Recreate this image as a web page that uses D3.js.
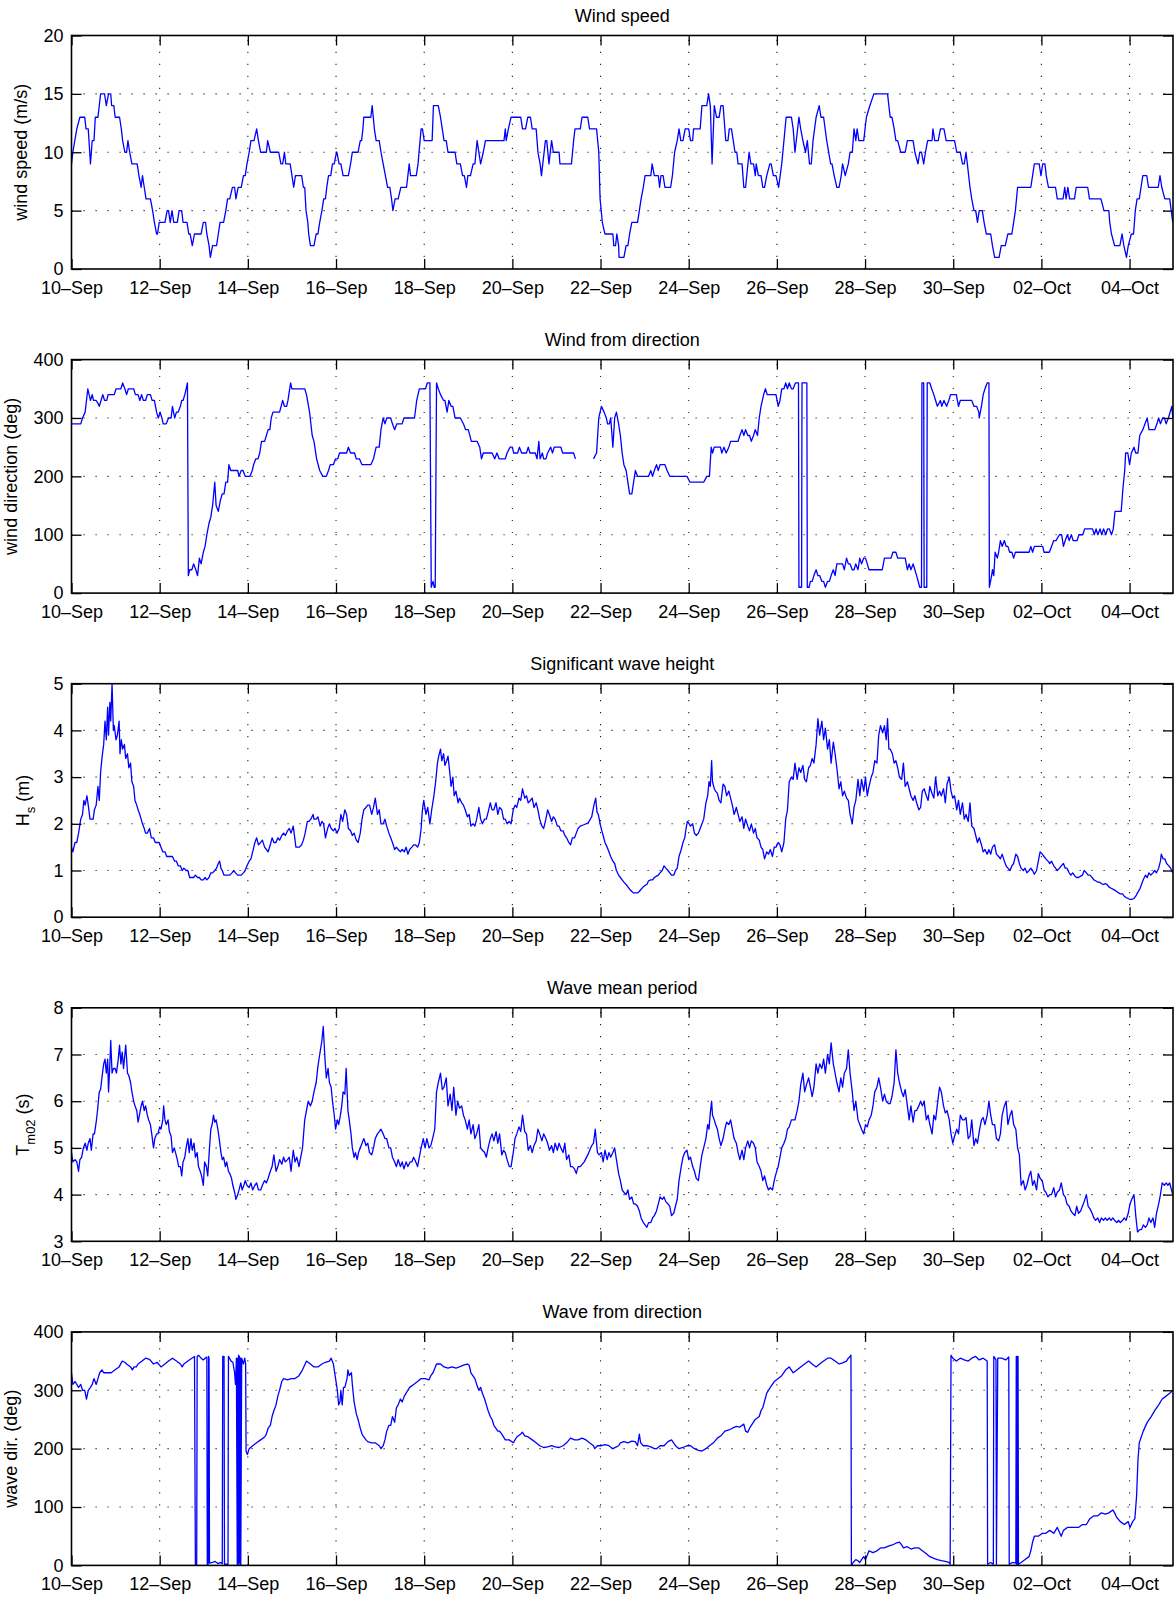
<!DOCTYPE html>
<html>
<head>
<meta charset="utf-8">
<script src="https://cdn.jsdelivr.net/npm/d3@7"></script>
<style>
  body { margin: 0; background: #fff; }
  svg { display: block; }
  text { font-family: "Liberation Sans", Arial, Helvetica, sans-serif; font-size: 18px; fill: #000; }
</style>
</head>
<body>
<svg id="chart" width="1176" height="1597"></svg>
<script>
// Buoy record, 10 Sep - 4 Oct. Times are in days since 10 Sep 00:00 UTC.
const tickDates = ["2013-09-10","2013-09-12","2013-09-14","2013-09-16","2013-09-18","2013-09-20",
  "2013-09-22","2013-09-24","2013-09-26","2013-09-28","2013-09-30","2013-10-02","2013-10-04"];

const speedTicks = [0, 5, 10, 15, 20];
const dirTicks = [0, 100, 200, 300, 400];
const hsTicks = [0, 1, 2, 3, 4, 5];
const tmTicks = [3, 4, 5, 6, 7, 8];

// wind speed (m/s)
const windSpeed = [[0,9],[0.03,10],[0.12,12],[0.19,13],[0.30,13],[0.33,12],[0.38,12],[0.43,9],[0.47,11],[0.51,11],[0.54,13],[0.60,13],[0.63,14],[0.66,15],[0.75,15],[0.79,14],[0.84,15],[0.89,15],[0.91,14],[0.96,14],[0.99,13],[1.09,13],[1.13,12],[1.16,11],[1.21,10],[1.25,10],[1.28,11],[1.32,10],[1.37,9],[1.49,9],[1.53,8],[1.58,7],[1.61,8],[1.65,7],[1.69,6],[1.79,6],[1.84,5],[1.88,4],[1.93,3],[1.95,3],[1.99,4],[2.12,4],[2.17,5],[2.20,5],[2.24,4],[2.28,5],[2.32,4],[2.40,4],[2.44,5],[2.50,5],[2.53,4],[2.62,4],[2.66,3],[2.69,3],[2.74,2],[2.79,3],[2.94,3],[2.99,4],[3.04,4],[3.07,3],[3.12,2],[3.15,1],[3.20,2],[3.29,2],[3.33,3],[3.37,4],[3.45,4],[3.50,5],[3.54,6],[3.59,6],[3.65,7],[3.70,7],[3.73,6],[3.78,7],[3.85,7],[3.90,8],[3.94,8],[3.98,9],[4.03,10],[4.07,11],[4.14,11],[4.20,12],[4.24,11],[4.29,10],[4.42,10],[4.45,11],[4.51,10],[4.70,10],[4.75,9],[4.79,9],[4.83,10],[4.86,9],[4.96,9],[5.00,8],[5.04,7],[5.08,8],[5.22,8],[5.26,7],[5.29,7],[5.32,5],[5.36,4],[5.38,3],[5.42,2],[5.50,2],[5.55,3],[5.59,3],[5.63,4],[5.68,5],[5.72,6],[5.76,6],[5.79,7],[5.83,8],[5.88,8],[5.92,9],[5.96,9],[6.01,10],[6.02,10],[6.07,9],[6.11,9],[6.16,8],[6.28,8],[6.33,9],[6.37,10],[6.50,10],[6.55,11],[6.58,11],[6.61,12],[6.63,13],[6.79,13],[6.82,14],[6.87,12],[6.91,11],[6.98,11],[7.02,10],[7.07,9],[7.12,8],[7.17,7],[7.22,7],[7.26,6],[7.29,5],[7.34,6],[7.41,6],[7.47,7],[7.60,7],[7.66,9],[7.69,8],[7.82,8],[7.86,9],[7.93,12],[7.96,12],[8.00,11],[8.18,11],[8.21,14],[8.32,14],[8.37,13],[8.41,12],[8.45,11],[8.50,11],[8.54,10],[8.70,10],[8.74,9],[8.82,9],[8.87,8],[8.91,8],[8.96,7],[8.99,8],[9.05,8],[9.11,9],[9.15,9],[9.20,11],[9.24,10],[9.28,9],[9.34,10],[9.39,11],[9.81,11],[9.84,12],[9.86,11],[9.91,12],[9.97,13],[10.19,13],[10.23,12],[10.30,12],[10.35,13],[10.41,13],[10.45,12],[10.54,12],[10.58,10],[10.63,9],[10.66,8],[10.69,9],[10.75,11],[10.78,11],[10.83,9],[10.89,11],[10.93,10],[11.06,10],[11.08,9],[11.34,9],[11.39,11],[11.42,12],[11.54,12],[11.58,13],[11.71,13],[11.75,12],[11.91,12],[11.96,10],[11.99,6],[12.04,4],[12.10,3],[12.28,3],[12.30,2],[12.34,2],[12.37,3],[12.41,2],[12.42,1],[12.53,1],[12.58,2],[12.62,2],[12.66,3],[12.71,4],[12.84,4],[12.88,5],[12.92,6],[12.97,7],[13.01,8],[13.14,8],[13.17,9],[13.22,8],[13.31,8],[13.34,7],[13.37,8],[13.42,8],[13.46,7],[13.59,7],[13.63,8],[13.68,10],[13.74,11],[13.78,12],[13.82,11],[13.87,11],[13.92,12],[14.00,12],[14.04,11],[14.09,11],[14.11,12],[14.26,12],[14.30,14],[14.41,14],[14.45,15],[14.49,14],[14.53,9],[14.58,14],[14.63,13],[14.69,13],[14.73,14],[14.78,14],[14.80,13],[14.84,11],[14.89,11],[14.92,12],[14.97,12],[15.01,11],[15.05,10],[15.09,10],[15.12,9],[15.21,9],[15.25,7],[15.29,7],[15.37,10],[15.41,9],[15.47,9],[15.51,8],[15.53,9],[15.58,8],[15.64,8],[15.68,7],[15.72,7],[15.77,8],[15.84,9],[15.87,9],[15.92,8],[15.98,8],[16.04,7],[16.11,9],[16.16,11],[16.21,13],[16.33,13],[16.37,12],[16.41,10],[16.50,13],[16.54,12],[16.59,11],[16.65,10],[16.69,11],[16.74,9],[16.78,9],[16.82,11],[16.89,13],[16.96,14],[17.00,13],[17.06,13],[17.13,11],[17.22,9],[17.25,9],[17.30,8],[17.36,7],[17.41,7],[17.46,8],[17.49,9],[17.55,8],[17.62,9],[17.66,10],[17.71,10],[17.75,12],[17.79,11],[17.82,12],[17.86,11],[17.97,11],[18.03,13],[18.11,14],[18.20,15],[18.51,15],[18.57,13],[18.61,13],[18.66,12],[18.70,11],[18.74,11],[18.81,10],[18.91,10],[18.96,11],[19.09,11],[19.13,10],[19.20,9],[19.24,10],[19.28,10],[19.33,9],[19.37,10],[19.42,11],[19.52,11],[19.54,12],[19.58,11],[19.66,11],[19.71,12],[19.79,12],[19.84,11],[20.03,11],[20.08,10],[20.16,10],[20.21,9],[20.25,9],[20.29,10],[20.32,9],[20.38,7],[20.42,6],[20.47,5],[20.51,5],[20.55,4],[20.59,5],[20.66,5],[20.70,4],[20.75,3],[20.85,3],[20.89,2],[20.94,1],[21.04,1],[21.09,2],[21.18,2],[21.24,3],[21.33,3],[21.37,4],[21.41,5],[21.46,7],[21.76,7],[21.80,8],[21.84,9],[21.95,9],[21.99,8],[22.03,9],[22.08,9],[22.11,8],[22.16,7],[22.32,7],[22.36,6],[22.49,6],[22.53,7],[22.56,6],[22.60,7],[22.64,6],[22.75,6],[22.79,7],[23.05,7],[23.09,6],[23.35,6],[23.42,5],[23.53,5],[23.55,4],[23.59,3],[23.66,2],[23.78,2],[23.83,3],[23.87,2],[23.93,1],[23.97,2],[24.04,3],[24.09,3],[24.13,5],[24.17,6],[24.22,6],[24.26,7],[24.30,8],[24.39,8],[24.43,7],[24.65,7],[24.69,8],[24.73,7],[24.80,6],[24.91,6],[24.98,4]];

// wind from direction (deg); null marks missing records
const windDir = [[0,290],[0.21,290],[0.25,300],[0.31,310],[0.37,350],[0.40,340],[0.43,330],[0.47,340],[0.50,330],[0.56,330],[0.60,325],[0.63,320],[0.67,330],[0.71,340],[0.75,330],[0.80,330],[0.83,340],[0.97,340],[1.01,350],[1.12,350],[1.16,360],[1.21,350],[1.25,340],[1.29,350],[1.41,350],[1.45,340],[1.51,340],[1.55,330],[1.59,340],[1.63,330],[1.68,330],[1.72,340],[1.79,340],[1.83,330],[1.88,330],[1.93,310],[1.97,300],[2.01,310],[2.05,300],[2.08,290],[2.15,290],[2.20,300],[2.26,300],[2.29,320],[2.34,300],[2.38,310],[2.42,310],[2.47,320],[2.50,330],[2.53,330],[2.57,340],[2.60,350],[2.63,360],[2.65,30],[2.68,40],[2.73,40],[2.77,50],[2.82,40],[2.86,30],[2.90,60],[2.94,50],[2.99,70],[3.03,80],[3.07,100],[3.12,120],[3.16,130],[3.20,150],[3.25,190],[3.28,150],[3.33,140],[3.38,160],[3.42,170],[3.46,170],[3.50,190],[3.54,190],[3.57,220],[3.61,210],[3.77,210],[3.80,200],[3.85,210],[3.89,210],[3.94,200],[4.05,200],[4.10,210],[4.13,220],[4.18,230],[4.23,230],[4.27,240],[4.31,260],[4.38,260],[4.42,270],[4.46,280],[4.50,280],[4.53,300],[4.57,310],[4.72,310],[4.79,330],[4.83,320],[4.88,320],[4.91,330],[4.97,360],[5.00,350],[5.29,350],[5.33,340],[5.40,310],[5.46,270],[5.50,260],[5.56,230],[5.63,210],[5.70,200],[5.78,200],[5.83,210],[5.87,220],[5.94,220],[5.99,230],[6.04,230],[6.08,240],[6.24,240],[6.28,250],[6.33,240],[6.42,240],[6.46,230],[6.53,230],[6.59,220],[6.79,220],[6.85,230],[6.91,250],[6.98,250],[7.02,280],[7.07,300],[7.11,290],[7.15,300],[7.24,300],[7.28,290],[7.33,280],[7.38,290],[7.50,290],[7.54,300],[7.78,300],[7.83,330],[7.89,350],[8.03,350],[8.07,360],[8.13,360],[8.16,10],[8.20,20],[8.23,10],[8.25,10],[8.28,360],[8.32,350],[8.37,340],[8.44,330],[8.47,330],[8.52,310],[8.56,330],[8.61,320],[8.65,320],[8.70,300],[8.82,300],[8.89,290],[8.94,280],[9.00,280],[9.07,260],[9.20,260],[9.26,250],[9.30,230],[9.34,240],[9.54,240],[9.60,230],[9.65,240],[9.70,230],[9.84,230],[9.88,240],[9.95,250],[10.00,250],[10.03,240],[10.12,240],[10.16,250],[10.21,240],[10.32,240],[10.36,250],[10.40,240],[10.52,240],[10.56,230],[10.60,260],[10.63,230],[10.68,240],[10.71,230],[10.76,230],[10.80,240],[10.87,250],[10.91,240],[10.95,250],[11.10,250],[11.14,240],[11.39,240],[11.43,230],[11.60,null],[11.84,230],[11.91,240],[11.96,300],[12.02,320],[12.08,310],[12.13,300],[12.16,290],[12.20,290],[12.23,300],[12.28,250],[12.32,300],[12.36,310],[12.41,290],[12.45,270],[12.49,240],[12.53,220],[12.58,210],[12.62,190],[12.66,170],[12.71,170],[12.75,190],[12.79,210],[12.84,200],[13.09,200],[13.14,210],[13.18,200],[13.22,210],[13.27,220],[13.31,210],[13.35,220],[13.46,220],[13.51,210],[13.57,200],[13.96,200],[14.03,190],[14.34,190],[14.41,200],[14.47,200],[14.51,250],[14.54,240],[14.58,250],[14.72,250],[14.75,240],[14.80,250],[14.85,240],[14.91,250],[14.95,260],[15.12,260],[15.16,270],[15.21,280],[15.25,270],[15.29,280],[15.34,270],[15.38,270],[15.42,260],[15.47,270],[15.51,280],[15.56,270],[15.60,300],[15.64,320],[15.70,340],[15.74,350],[15.78,340],[15.98,340],[16.03,320],[16.07,330],[16.11,350],[16.16,350],[16.20,360],[16.24,350],[16.28,360],[16.33,350],[16.37,350],[16.42,360],[16.49,360],[16.50,10],[16.56,10],[16.57,360],[16.68,360],[16.69,10],[16.73,10],[16.76,20],[16.80,20],[16.84,30],[16.89,40],[16.93,30],[16.97,30],[17.02,20],[17.06,20],[17.10,10],[17.15,20],[17.19,20],[17.23,30],[17.28,40],[17.32,30],[17.36,50],[17.49,50],[17.53,40],[17.58,60],[17.62,50],[17.66,50],[17.71,40],[17.75,40],[17.79,50],[17.84,40],[17.88,60],[17.92,50],[17.97,60],[18.01,60],[18.05,50],[18.09,40],[18.39,40],[18.44,60],[18.59,60],[18.63,70],[18.70,70],[18.74,60],[18.91,60],[18.96,40],[19.00,50],[19.04,40],[19.09,50],[19.13,40],[19.17,30],[19.24,10],[19.28,10],[19.29,360],[19.33,360],[19.34,10],[19.40,10],[19.41,360],[19.47,360],[19.51,350],[19.56,340],[19.60,330],[19.64,320],[19.71,330],[19.74,320],[19.79,330],[19.85,320],[19.90,330],[19.94,340],[20.07,340],[20.12,320],[20.16,330],[20.42,330],[20.47,320],[20.53,320],[20.58,310],[20.59,300],[20.64,320],[20.68,340],[20.72,350],[20.77,360],[20.81,360],[20.82,10],[20.87,30],[20.89,40],[20.92,30],[20.95,70],[21.00,60],[21.03,70],[21.07,90],[21.11,80],[21.16,90],[21.20,80],[21.24,80],[21.28,70],[21.33,70],[21.37,60],[21.41,70],[21.72,70],[21.76,80],[21.80,70],[21.84,80],[22.03,80],[22.06,70],[22.18,70],[22.23,80],[22.28,90],[22.33,90],[22.41,100],[22.46,100],[22.50,80],[22.54,90],[22.59,100],[22.63,90],[22.68,100],[22.72,90],[22.81,90],[22.85,100],[22.94,100],[22.98,110],[23.16,110],[23.20,100],[23.24,110],[23.28,100],[23.33,110],[23.37,100],[23.41,110],[23.46,100],[23.50,110],[23.54,110],[23.59,100],[23.63,110],[23.67,140],[23.81,140],[23.85,180],[23.89,210],[23.91,240],[23.96,240],[24.00,220],[24.04,240],[24.10,250],[24.14,240],[24.19,240],[24.23,270],[24.30,280],[24.35,290],[24.40,300],[24.44,280],[24.57,280],[24.62,290],[24.66,300],[24.70,290],[24.75,300],[24.79,300],[24.83,290],[24.88,300],[24.92,310],[24.96,320],[24.98,300]];

// significant wave height Hs (m)
const waveHeight = [[0,1.5],[0.03,1.4],[0.08,1.6],[0.12,1.6],[0.16,1.8],[0.21,2.1],[0.25,2.2],[0.28,2.5],[0.31,2.4],[0.35,2.6],[0.38,2.4],[0.42,2.1],[0.45,2.1],[0.49,2.1],[0.52,2.3],[0.56,2.4],[0.60,2.8],[0.63,2.5],[0.66,3.1],[0.69,3.4],[0.73,3.7],[0.76,4.2],[0.79,3.8],[0.82,4.5],[0.84,3.9],[0.87,4.6],[0.89,4.2],[0.92,5.0],[0.95,4.0],[0.97,4.1],[1.01,3.8],[1.04,3.9],[1.08,4.2],[1.10,3.5],[1.13,3.8],[1.16,3.6],[1.20,3.7],[1.23,3.4],[1.27,3.5],[1.30,3.2],[1.34,3.3],[1.37,2.9],[1.41,2.8],[1.44,2.5],[1.48,2.4],[1.51,2.3],[1.55,2.2],[1.58,2.1],[1.61,2.0],[1.65,1.9],[1.68,1.8],[1.72,1.8],[1.77,1.9],[1.81,1.7],[1.86,1.7],[1.90,1.6],[1.94,1.6],[1.99,1.6],[2.03,1.5],[2.07,1.4],[2.12,1.4],[2.16,1.3],[2.20,1.3],[2.25,1.3],[2.29,1.3],[2.34,1.2],[2.38,1.2],[2.42,1.1],[2.47,1.1],[2.51,1.0],[2.55,1.05],[2.60,1.0],[2.64,1.0],[2.68,0.85],[2.73,0.85],[2.77,0.85],[2.81,0.9],[2.86,0.85],[2.90,0.85],[2.94,0.8],[2.99,0.8],[3.03,0.85],[3.07,0.8],[3.12,0.85],[3.16,0.95],[3.20,0.95],[3.25,1.0],[3.29,1.05],[3.33,1.15],[3.36,1.2],[3.39,1.05],[3.42,1.0],[3.46,0.9],[3.51,0.9],[3.55,0.9],[3.59,0.9],[3.64,0.95],[3.68,1.0],[3.72,0.95],[3.77,0.9],[3.81,0.9],[3.85,0.9],[3.90,0.95],[3.94,1.0],[3.98,1.1],[4.03,1.2],[4.07,1.25],[4.11,1.4],[4.16,1.6],[4.20,1.7],[4.24,1.55],[4.29,1.6],[4.33,1.65],[4.38,1.5],[4.42,1.45],[4.46,1.4],[4.51,1.55],[4.55,1.7],[4.59,1.6],[4.64,1.6],[4.68,1.7],[4.72,1.65],[4.77,1.75],[4.81,1.8],[4.85,1.75],[4.90,1.85],[4.94,1.9],[4.98,1.8],[5.03,1.95],[5.05,1.8],[5.09,1.5],[5.13,1.5],[5.17,1.5],[5.22,1.55],[5.26,1.65],[5.30,1.8],[5.35,2.05],[5.39,2.05],[5.43,2.1],[5.48,2.2],[5.50,2.1],[5.55,2.1],[5.59,2.15],[5.64,1.95],[5.68,2.05],[5.72,2.0],[5.76,1.7],[5.81,1.9],[5.85,2.0],[5.89,1.9],[5.94,1.85],[5.98,1.9],[6.02,1.8],[6.07,1.9],[6.11,2.2],[6.15,2.05],[6.20,2.3],[6.24,2.2],[6.28,1.9],[6.33,1.85],[6.37,1.75],[6.41,1.8],[6.46,1.65],[6.50,1.6],[6.55,1.8],[6.59,2.1],[6.63,2.3],[6.68,2.35],[6.72,2.4],[6.76,2.4],[6.81,2.2],[6.85,2.35],[6.89,2.55],[6.94,2.2],[6.98,2.3],[7.02,2.0],[7.07,2.0],[7.11,2.1],[7.15,1.95],[7.20,1.8],[7.24,1.7],[7.28,1.6],[7.33,1.45],[7.37,1.5],[7.41,1.45],[7.46,1.4],[7.50,1.45],[7.55,1.4],[7.59,1.5],[7.63,1.35],[7.67,1.45],[7.72,1.5],[7.76,1.55],[7.80,1.55],[7.85,1.5],[7.89,1.6],[7.93,1.9],[7.96,2.3],[7.99,2.5],[8.04,2.2],[8.08,2.35],[8.13,2.0],[8.17,2.3],[8.22,2.6],[8.26,2.9],[8.30,3.3],[8.33,3.45],[8.37,3.6],[8.40,3.35],[8.44,3.5],[8.47,3.25],[8.51,3.35],[8.54,3.45],[8.58,3.1],[8.61,2.8],[8.65,3.0],[8.68,2.6],[8.72,2.7],[8.77,2.45],[8.80,2.55],[8.85,2.45],[8.89,2.4],[8.93,2.3],[8.98,2.15],[9.02,2.2],[9.06,1.95],[9.11,2.0],[9.15,1.95],[9.19,2.1],[9.24,2.35],[9.28,2.1],[9.32,2.0],[9.37,2.1],[9.41,2.1],[9.45,2.25],[9.50,2.45],[9.54,2.3],[9.58,2.3],[9.63,2.45],[9.67,2.2],[9.71,2.35],[9.76,2.3],[9.80,2.1],[9.84,2.1],[9.88,2.0],[9.93,2.05],[9.97,2.0],[10.02,2.3],[10.06,2.4],[10.10,2.35],[10.15,2.55],[10.19,2.5],[10.23,2.75],[10.28,2.55],[10.32,2.6],[10.36,2.45],[10.41,2.5],[10.45,2.55],[10.49,2.35],[10.54,2.45],[10.58,2.3],[10.62,2.1],[10.67,1.95],[10.71,1.9],[10.76,2.1],[10.80,2.3],[10.84,2.2],[10.89,2.05],[10.93,2.15],[10.97,2.1],[11.02,1.95],[11.06,1.95],[11.10,1.85],[11.15,1.85],[11.19,1.75],[11.23,1.7],[11.28,1.6],[11.32,1.55],[11.36,1.7],[11.41,1.7],[11.45,1.8],[11.49,1.9],[11.54,1.95],[11.62,1.98],[11.72,2.02],[11.80,2.15],[11.85,2.4],[11.89,2.55],[11.92,2.25],[11.95,2.2],[11.99,2.0],[12.03,1.85],[12.06,1.75],[12.10,1.6],[12.15,1.5],[12.19,1.4],[12.23,1.3],[12.28,1.2],[12.32,1.15],[12.36,1.0],[12.41,0.9],[12.45,0.85],[12.49,0.8],[12.53,0.75],[12.58,0.7],[12.62,0.65],[12.66,0.6],[12.71,0.55],[12.75,0.52],[12.84,0.52],[12.88,0.55],[12.92,0.6],[12.97,0.65],[13.01,0.68],[13.05,0.7],[13.09,0.78],[13.14,0.8],[13.18,0.8],[13.22,0.85],[13.27,0.88],[13.31,0.9],[13.35,0.95],[13.40,1.0],[13.44,1.1],[13.48,1.05],[13.53,1.0],[13.57,0.95],[13.61,0.9],[13.66,0.9],[13.70,1.0],[13.74,1.05],[13.78,1.3],[13.83,1.45],[13.87,1.6],[13.91,1.7],[13.94,1.9],[13.97,2.05],[14.01,2.0],[14.04,1.95],[14.09,2.0],[14.13,1.8],[14.17,1.75],[14.22,1.8],[14.26,1.9],[14.30,2.0],[14.34,2.1],[14.39,2.45],[14.43,2.6],[14.46,2.9],[14.49,2.8],[14.52,3.35],[14.54,2.9],[14.58,2.75],[14.61,2.7],[14.65,2.65],[14.69,2.5],[14.73,2.45],[14.78,2.85],[14.82,2.8],[14.86,2.6],[14.91,2.7],[14.95,2.55],[14.99,2.4],[15.03,2.2],[15.08,2.35],[15.12,2.2],[15.16,2.05],[15.21,2.15],[15.25,1.9],[15.29,2.1],[15.34,1.95],[15.38,1.85],[15.42,2.0],[15.47,1.8],[15.51,1.9],[15.55,1.7],[15.60,1.65],[15.64,1.5],[15.68,1.45],[15.72,1.25],[15.77,1.4],[15.81,1.35],[15.85,1.45],[15.90,1.3],[15.94,1.5],[15.98,1.5],[16.03,1.6],[16.07,1.55],[16.11,1.4],[16.16,1.6],[16.20,2.1],[16.24,2.3],[16.28,2.9],[16.33,3.0],[16.37,2.95],[16.41,3.3],[16.46,2.95],[16.50,3.2],[16.54,3.1],[16.59,3.25],[16.63,2.95],[16.67,2.9],[16.72,3.2],[16.76,3.25],[16.80,3.4],[16.84,3.3],[16.89,3.7],[16.93,4.25],[16.97,3.9],[17.02,4.2],[17.06,3.8],[17.10,4.05],[17.15,3.6],[17.19,3.8],[17.23,3.3],[17.28,3.75],[17.32,3.5],[17.36,3.2],[17.41,2.75],[17.45,2.9],[17.49,2.6],[17.53,2.7],[17.58,2.55],[17.62,2.5],[17.66,2.2],[17.71,2.0],[17.75,2.35],[17.79,2.5],[17.84,2.95],[17.88,2.6],[17.92,2.95],[17.97,2.7],[18.01,3.0],[18.05,2.6],[18.09,2.8],[18.14,3.0],[18.18,3.1],[18.22,3.35],[18.27,3.3],[18.31,3.9],[18.35,4.1],[18.40,3.95],[18.44,4.1],[18.48,3.8],[18.51,4.25],[18.54,3.6],[18.57,3.6],[18.62,3.5],[18.66,3.3],[18.70,3.35],[18.74,3.2],[18.78,3.0],[18.83,2.95],[18.87,3.3],[18.91,2.8],[18.96,2.9],[19.00,2.75],[19.04,2.6],[19.09,2.5],[19.13,2.6],[19.17,2.45],[19.22,2.3],[19.26,2.35],[19.30,2.7],[19.34,2.75],[19.39,2.6],[19.43,2.5],[19.47,2.8],[19.52,2.65],[19.56,2.55],[19.60,3.0],[19.65,2.6],[19.69,2.7],[19.73,2.6],[19.78,2.75],[19.82,2.45],[19.86,2.85],[19.91,3.0],[19.95,2.7],[19.99,2.55],[20.03,2.6],[20.08,2.3],[20.12,2.5],[20.16,2.2],[20.21,2.45],[20.25,2.1],[20.29,2.2],[20.34,2.05],[20.38,2.45],[20.42,1.95],[20.47,1.9],[20.51,1.75],[20.55,1.6],[20.59,1.7],[20.64,1.55],[20.68,1.4],[20.72,1.45],[20.77,1.35],[20.81,1.45],[20.85,1.35],[20.89,1.5],[20.94,1.55],[20.98,1.35],[21.03,1.3],[21.07,1.25],[21.11,1.35],[21.16,1.2],[21.20,1.1],[21.24,1.05],[21.29,1.0],[21.33,1.1],[21.37,1.15],[21.42,1.35],[21.46,1.3],[21.50,1.15],[21.54,1.05],[21.59,1.0],[21.63,1.05],[21.67,0.95],[21.72,1.0],[21.76,1.05],[21.80,1.0],[21.84,0.92],[21.89,1.0],[21.93,1.2],[21.97,1.4],[22.02,1.35],[22.06,1.3],[22.10,1.25],[22.15,1.2],[22.19,1.15],[22.23,1.2],[22.28,1.1],[22.32,1.05],[22.36,1.0],[22.41,1.05],[22.45,1.1],[22.50,1.15],[22.54,1.05],[22.58,1.05],[22.63,0.95],[22.67,0.9],[22.71,0.95],[22.76,0.88],[22.80,0.85],[22.84,0.85],[22.89,0.88],[22.93,0.9],[22.97,1.0],[23.02,0.95],[23.06,0.9],[23.10,0.9],[23.15,0.85],[23.19,0.8],[23.23,0.78],[23.28,0.75],[23.32,0.75],[23.36,0.72],[23.41,0.7],[23.45,0.72],[23.49,0.7],[23.53,0.65],[23.58,0.62],[23.62,0.6],[23.66,0.58],[23.71,0.55],[23.75,0.52],[23.79,0.5],[23.84,0.5],[23.88,0.45],[23.92,0.42],[23.97,0.4],[24.01,0.38],[24.05,0.38],[24.10,0.4],[24.14,0.45],[24.18,0.52],[24.23,0.6],[24.27,0.7],[24.31,0.8],[24.36,0.9],[24.40,0.85],[24.44,0.95],[24.48,0.9],[24.53,0.95],[24.57,1.0],[24.61,0.95],[24.66,1.05],[24.70,1.2],[24.72,1.35],[24.76,1.25],[24.80,1.25],[24.84,1.15],[24.89,1.1],[24.93,1.05],[24.98,0.95]];

// mean wave period Tm02 (s)
const wavePeriod = [[0,4.9],[0.03,4.7],[0.08,4.75],[0.12,4.7],[0.16,4.5],[0.19,4.75],[0.23,4.8],[0.27,5.0],[0.31,5.1],[0.35,4.95],[0.38,5.1],[0.42,5.2],[0.45,4.95],[0.49,5.3],[0.52,5.3],[0.56,5.55],[0.59,5.8],[0.63,6.2],[0.66,6.25],[0.69,6.5],[0.73,6.8],[0.76,6.9],[0.79,6.6],[0.82,6.9],[0.84,6.2],[0.87,6.8],[0.89,7.3],[0.92,6.6],[0.95,6.7],[0.99,6.7],[1.02,6.6],[1.06,6.9],[1.09,7.2],[1.12,6.8],[1.15,7.05],[1.18,6.7],[1.21,7.0],[1.23,7.2],[1.27,6.6],[1.30,6.55],[1.34,6.4],[1.37,6.2],[1.41,6.0],[1.44,5.9],[1.48,5.8],[1.51,5.55],[1.55,5.75],[1.58,5.9],[1.61,6.0],[1.65,5.8],[1.68,5.9],[1.72,5.7],[1.75,5.6],[1.79,5.5],[1.82,5.3],[1.86,5.0],[1.89,5.2],[1.93,5.3],[1.96,5.3],[2.00,5.45],[2.03,5.4],[2.07,5.6],[2.09,5.9],[2.12,5.6],[2.15,5.5],[2.19,5.6],[2.22,5.35],[2.26,5.25],[2.29,4.9],[2.33,5.0],[2.36,4.9],[2.40,4.75],[2.43,4.6],[2.47,4.6],[2.50,4.4],[2.53,4.7],[2.57,4.8],[2.60,5.0],[2.64,5.2],[2.67,4.9],[2.71,5.2],[2.74,4.95],[2.78,5.1],[2.81,4.8],[2.85,4.9],[2.88,4.6],[2.92,4.5],[2.95,4.4],[2.99,4.2],[3.02,4.7],[3.06,4.6],[3.09,4.4],[3.13,5.0],[3.16,5.4],[3.19,5.5],[3.22,5.7],[3.25,5.55],[3.28,5.6],[3.32,5.4],[3.35,5.2],[3.39,4.9],[3.42,4.75],[3.45,4.8],[3.49,4.6],[3.52,4.7],[3.56,4.5],[3.59,4.45],[3.63,4.35],[3.66,4.2],[3.70,4.05],[3.73,3.9],[3.77,4.0],[3.80,4.1],[3.84,4.25],[3.87,4.1],[3.91,4.2],[3.94,4.3],[3.98,4.2],[4.03,4.15],[4.07,4.25],[4.11,4.1],[4.16,4.2],[4.20,4.25],[4.24,4.1],[4.29,4.1],[4.33,4.2],[4.38,4.3],[4.42,4.25],[4.46,4.35],[4.51,4.5],[4.55,4.6],[4.59,4.85],[4.64,4.5],[4.68,4.6],[4.72,4.75],[4.77,4.65],[4.81,4.8],[4.85,4.7],[4.90,4.75],[4.94,4.8],[4.98,4.5],[5.03,4.95],[5.07,4.7],[5.11,4.8],[5.16,4.6],[5.20,4.8],[5.24,5.0],[5.29,5.6],[5.33,5.8],[5.37,6.0],[5.42,5.9],[5.46,6.0],[5.50,6.2],[5.55,6.4],[5.59,6.75],[5.63,7.0],[5.68,7.3],[5.71,7.6],[5.75,6.9],[5.78,6.5],[5.82,6.7],[5.85,6.4],[5.89,6.3],[5.92,6.0],[5.96,5.7],[5.99,5.4],[6.03,5.6],[6.06,5.5],[6.10,5.7],[6.13,5.9],[6.16,6.2],[6.20,6.15],[6.23,6.7],[6.27,5.8],[6.30,5.6],[6.34,5.3],[6.37,5.0],[6.41,4.8],[6.44,4.9],[6.48,4.75],[6.51,4.9],[6.55,5.0],[6.59,5.1],[6.63,5.2],[6.68,5.05],[6.72,5.1],[6.76,4.9],[6.81,4.85],[6.85,5.0],[6.89,5.2],[6.94,5.3],[6.98,5.35],[7.02,5.4],[7.07,5.3],[7.11,5.2],[7.15,5.2],[7.20,5.0],[7.24,5.0],[7.28,4.8],[7.33,4.7],[7.37,4.6],[7.41,4.75],[7.46,4.6],[7.50,4.7],[7.54,4.55],[7.59,4.7],[7.63,4.6],[7.68,4.7],[7.72,4.7],[7.76,4.8],[7.81,4.7],[7.85,4.6],[7.89,4.8],[7.93,5.0],[7.98,5.2],[8.02,5.0],[8.06,5.2],[8.11,5.0],[8.15,5.05],[8.19,5.2],[8.24,5.4],[8.28,6.2],[8.32,6.4],[8.37,6.6],[8.41,6.25],[8.45,6.3],[8.50,6.5],[8.54,5.9],[8.59,6.15],[8.63,5.8],[8.67,6.3],[8.72,5.7],[8.76,6.0],[8.80,5.85],[8.85,5.9],[8.89,5.7],[8.93,5.6],[8.98,5.4],[9.02,5.6],[9.06,5.3],[9.11,5.5],[9.15,5.2],[9.19,5.3],[9.24,5.5],[9.28,5.0],[9.32,4.95],[9.37,4.9],[9.41,4.8],[9.45,5.0],[9.50,5.2],[9.54,5.3],[9.58,5.15],[9.63,5.35],[9.67,5.1],[9.71,5.3],[9.76,4.85],[9.80,4.95],[9.84,4.9],[9.88,4.75],[9.93,4.6],[9.97,4.6],[10.02,4.9],[10.06,5.2],[10.10,5.3],[10.15,5.45],[10.19,5.35],[10.23,5.7],[10.28,5.35],[10.32,5.3],[10.36,4.95],[10.41,5.05],[10.45,4.9],[10.49,5.05],[10.54,5.15],[10.58,5.4],[10.62,5.3],[10.67,5.15],[10.71,5.3],[10.76,5.2],[10.80,5.1],[10.84,4.95],[10.89,5.05],[10.93,4.9],[10.97,5.1],[11.02,4.95],[11.06,5.1],[11.10,5.0],[11.15,4.9],[11.19,5.1],[11.23,4.75],[11.28,4.85],[11.32,4.6],[11.36,4.6],[11.41,4.55],[11.45,4.45],[11.49,4.6],[11.54,4.6],[11.63,4.7],[11.71,4.85],[11.80,5.05],[11.84,5.1],[11.88,5.4],[11.93,4.9],[11.97,4.85],[12.02,4.9],[12.06,4.7],[12.10,4.95],[12.15,4.75],[12.19,4.9],[12.23,4.8],[12.28,4.9],[12.32,5.0],[12.36,4.75],[12.41,4.45],[12.45,4.3],[12.49,4.1],[12.53,4.05],[12.58,4.0],[12.62,4.1],[12.66,3.9],[12.71,3.95],[12.75,3.8],[12.79,3.8],[12.84,3.75],[12.88,3.65],[12.92,3.5],[12.97,3.4],[13.01,3.35],[13.05,3.3],[13.09,3.4],[13.14,3.4],[13.18,3.5],[13.22,3.55],[13.27,3.65],[13.31,3.8],[13.35,3.95],[13.40,3.9],[13.44,3.95],[13.48,3.85],[13.53,3.8],[13.57,3.75],[13.61,3.55],[13.66,3.6],[13.70,3.75],[13.74,3.9],[13.78,4.3],[13.83,4.6],[13.87,4.8],[13.91,4.9],[13.96,4.95],[14.00,4.75],[14.04,4.8],[14.09,4.6],[14.13,4.5],[14.17,4.35],[14.22,4.3],[14.26,4.6],[14.30,4.85],[14.34,5.0],[14.39,5.2],[14.43,5.5],[14.46,5.4],[14.49,5.75],[14.52,6.0],[14.54,5.7],[14.58,5.6],[14.61,5.5],[14.65,5.4],[14.69,5.2],[14.73,5.05],[14.78,5.2],[14.82,5.4],[14.86,5.55],[14.91,5.5],[14.95,5.6],[14.99,5.4],[15.03,5.2],[15.08,5.1],[15.12,4.9],[15.16,4.75],[15.21,4.95],[15.25,4.75],[15.29,5.0],[15.34,5.15],[15.38,5.0],[15.42,5.15],[15.47,5.1],[15.51,5.0],[15.55,4.7],[15.60,4.6],[15.64,4.5],[15.68,4.3],[15.72,4.4],[15.77,4.2],[15.81,4.1],[15.85,4.15],[15.90,4.1],[15.94,4.3],[15.98,4.45],[16.03,4.6],[16.07,4.8],[16.11,5.0],[16.16,5.1],[16.20,5.2],[16.24,5.4],[16.28,5.45],[16.33,5.6],[16.37,5.6],[16.41,5.6],[16.46,5.8],[16.50,6.0],[16.54,6.35],[16.59,6.6],[16.63,6.2],[16.67,6.35],[16.72,6.5],[16.76,6.3],[16.80,6.1],[16.84,6.3],[16.89,6.8],[16.93,6.6],[16.97,6.8],[17.02,6.7],[17.06,6.9],[17.10,6.6],[17.15,7.0],[17.19,6.8],[17.23,7.25],[17.28,6.8],[17.32,6.6],[17.36,6.4],[17.41,6.2],[17.45,6.5],[17.49,6.3],[17.53,6.6],[17.58,6.7],[17.62,7.1],[17.66,6.6],[17.71,6.2],[17.75,5.8],[17.79,6.0],[17.84,5.6],[17.88,5.5],[17.92,5.4],[17.97,5.3],[18.01,5.5],[18.05,5.45],[18.09,5.6],[18.14,5.7],[18.18,5.9],[18.22,6.2],[18.27,6.3],[18.31,6.5],[18.35,6.3],[18.40,6.0],[18.44,6.15],[18.48,6.0],[18.53,5.95],[18.57,5.95],[18.61,6.1],[18.66,6.4],[18.70,7.1],[18.74,6.6],[18.78,6.4],[18.83,6.2],[18.87,6.1],[18.91,6.25],[18.96,5.9],[19.00,5.6],[19.04,5.9],[19.09,5.55],[19.13,5.8],[19.17,5.8],[19.22,5.9],[19.26,6.0],[19.30,5.9],[19.34,6.0],[19.39,5.6],[19.43,5.7],[19.47,5.5],[19.52,5.3],[19.56,5.7],[19.60,5.6],[19.65,6.0],[19.69,6.3],[19.73,6.2],[19.78,5.9],[19.82,5.75],[19.86,5.8],[19.91,5.6],[19.95,5.3],[19.99,5.1],[20.03,5.25],[20.08,5.4],[20.12,5.3],[20.16,5.7],[20.21,5.6],[20.25,5.6],[20.29,5.65],[20.34,5.2],[20.38,5.25],[20.42,5.6],[20.47,5.05],[20.51,5.2],[20.55,5.1],[20.59,5.35],[20.64,5.6],[20.68,5.65],[20.72,5.5],[20.77,5.7],[20.81,6.0],[20.85,5.7],[20.89,5.5],[20.94,5.5],[20.98,5.2],[21.03,5.15],[21.07,5.3],[21.11,5.7],[21.16,5.9],[21.20,6.0],[21.24,5.5],[21.29,5.7],[21.33,5.8],[21.37,5.5],[21.42,5.4],[21.46,5.0],[21.50,4.85],[21.54,4.2],[21.59,4.3],[21.63,4.1],[21.67,4.2],[21.72,4.4],[21.76,4.5],[21.80,4.2],[21.84,4.3],[21.89,4.1],[21.93,4.45],[21.97,4.35],[22.02,4.3],[22.06,4.1],[22.10,4.05],[22.15,3.95],[22.19,4.0],[22.23,4.0],[22.28,4.15],[22.32,3.95],[22.36,4.05],[22.41,4.1],[22.45,4.25],[22.50,4.0],[22.54,3.95],[22.58,3.8],[22.63,3.75],[22.67,3.65],[22.71,3.6],[22.76,3.55],[22.80,3.75],[22.84,3.6],[22.89,3.65],[22.93,3.75],[22.97,3.85],[23.02,4.0],[23.06,3.75],[23.10,3.7],[23.15,3.6],[23.19,3.5],[23.23,3.45],[23.28,3.5],[23.32,3.4],[23.36,3.5],[23.41,3.45],[23.45,3.5],[23.49,3.45],[23.54,3.5],[23.58,3.45],[23.62,3.5],[23.66,3.45],[23.71,3.4],[23.75,3.45],[23.79,3.4],[23.84,3.45],[23.88,3.5],[23.92,3.45],[23.97,3.6],[24.01,3.8],[24.05,3.9],[24.10,4.0],[24.14,3.55],[24.18,3.2],[24.23,3.25],[24.27,3.25],[24.31,3.35],[24.36,3.3],[24.40,3.35],[24.44,3.5],[24.48,3.4],[24.53,3.5],[24.57,3.3],[24.61,3.6],[24.66,3.8],[24.70,4.0],[24.74,4.25],[24.79,4.2],[24.83,4.25],[24.87,4.2],[24.91,4.25],[24.95,4.1],[24.98,4.0]];

// wave from direction (deg)
const waveDir = [[0,330],[0.03,310],[0.08,315],[0.12,310],[0.16,305],[0.21,310],[0.25,300],[0.30,300],[0.34,285],[0.38,300],[0.43,305],[0.47,310],[0.51,320],[0.56,310],[0.60,320],[0.64,330],[0.69,335],[0.73,330],[0.82,330],[0.90,330],[0.99,335],[1.08,340],[1.15,350],[1.21,348],[1.25,345],[1.34,340],[1.38,335],[1.42,340],[1.47,340],[1.51,345],[1.60,350],[1.68,355],[1.77,353],[1.86,345],[1.94,348],[2.03,340],[2.12,345],[2.20,350],[2.29,355],[2.38,350],[2.47,345],[2.51,340],[2.55,345],[2.64,350],[2.73,355],[2.79,358],[2.81,2],[2.84,2],[2.85,358],[2.88,360],[2.94,355],[2.99,352],[3.03,355],[3.07,357],[3.08,2],[3.10,2],[3.11,358],[3.12,355],[3.13,4],[3.20,5],[3.25,7],[3.29,5],[3.33,3],[3.37,5],[3.42,3],[3.43,358],[3.46,358],[3.47,2],[3.55,2],[3.56,358],[3.62,350],[3.66,348],[3.70,330],[3.72,310],[3.74,355],[3.76,2],[3.77,355],[3.78,0],[3.79,360],[3.80,5],[3.81,358],[3.82,2],[3.83,355],[3.84,0],[3.86,355],[3.90,345],[3.93,355],[3.95,345],[3.96,195],[3.99,190],[4.03,200],[4.11,205],[4.20,210],[4.29,215],[4.38,220],[4.42,225],[4.46,235],[4.51,240],[4.55,255],[4.59,265],[4.64,275],[4.68,290],[4.72,300],[4.77,315],[4.81,320],[4.90,318],[4.98,320],[5.07,320],[5.16,325],[5.24,335],[5.33,350],[5.42,345],[5.50,340],[5.59,340],[5.68,345],[5.76,348],[5.85,350],[5.89,355],[5.94,345],[5.99,320],[6.03,300],[6.06,275],[6.09,280],[6.11,300],[6.14,275],[6.17,305],[6.20,305],[6.25,320],[6.27,335],[6.30,325],[6.35,330],[6.37,310],[6.41,280],[6.46,260],[6.50,250],[6.55,235],[6.59,225],[6.63,220],[6.68,215],[6.72,212],[6.81,210],[6.89,210],[6.98,205],[7.02,200],[7.07,205],[7.11,215],[7.15,230],[7.20,240],[7.24,240],[7.28,255],[7.33,245],[7.37,270],[7.41,275],[7.46,285],[7.50,280],[7.55,290],[7.59,295],[7.63,300],[7.67,305],[7.76,310],[7.85,315],[7.93,320],[8.02,320],[8.11,318],[8.15,325],[8.20,330],[8.28,345],[8.37,345],[8.45,340],[8.54,338],[8.63,340],[8.72,338],[8.80,340],[8.89,343],[8.98,345],[9.02,343],[9.06,330],[9.15,320],[9.19,310],[9.24,300],[9.28,305],[9.32,295],[9.37,285],[9.41,275],[9.45,265],[9.50,255],[9.54,250],[9.58,240],[9.67,230],[9.71,230],[9.76,225],[9.84,215],[9.93,215],[10.02,210],[10.10,220],[10.19,225],[10.23,228],[10.28,222],[10.36,220],[10.45,215],[10.54,210],[10.62,205],[10.71,202],[10.80,203],[10.89,205],[10.97,203],[11.06,202],[11.15,205],[11.23,210],[11.32,218],[11.41,215],[11.49,215],[11.58,218],[11.67,215],[11.75,210],[11.84,205],[11.87,200],[11.93,205],[12.02,205],[12.10,207],[12.19,205],[12.28,200],[12.36,203],[12.41,205],[12.45,210],[12.53,212],[12.62,210],[12.71,213],[12.79,212],[12.84,205],[12.88,225],[12.91,210],[12.97,205],[13.05,205],[13.14,203],[13.22,200],[13.27,200],[13.35,205],[13.44,205],[13.53,212],[13.61,215],[13.70,205],[13.78,200],[13.87,202],[13.96,205],[14.04,205],[14.13,200],[14.22,197],[14.30,196],[14.39,200],[14.47,205],[14.56,210],[14.65,218],[14.73,222],[14.82,230],[14.91,232],[14.99,235],[15.08,238],[15.16,237],[15.25,242],[15.29,230],[15.34,228],[15.38,235],[15.42,240],[15.51,250],[15.60,255],[15.64,265],[15.68,270],[15.77,295],[15.81,300],[15.85,305],[15.94,315],[16.03,320],[16.11,325],[16.20,335],[16.28,340],[16.37,330],[16.46,335],[16.54,340],[16.63,345],[16.72,350],[16.80,345],[16.89,340],[16.97,345],[17.06,350],[17.15,355],[17.23,355],[17.32,350],[17.41,345],[17.49,347],[17.58,350],[17.62,355],[17.66,358],[17.68,360],[17.69,0],[17.73,5],[17.79,10],[17.84,8],[17.88,5],[17.92,10],[17.97,15],[18.01,10],[18.09,25],[18.18,22],[18.27,25],[18.35,30],[18.44,30],[18.53,33],[18.62,35],[18.70,38],[18.78,40],[18.83,35],[18.87,30],[18.96,32],[19.04,28],[19.13,30],[19.22,30],[19.30,25],[19.39,20],[19.47,15],[19.56,12],[19.64,10],[19.73,8],[19.82,7],[19.90,5],[19.93,2],[19.95,360],[19.99,355],[20.07,350],[20.16,355],[20.25,352],[20.34,350],[20.42,355],[20.51,358],[20.59,352],[20.68,355],[20.77,350],[20.78,2],[20.85,5],[20.91,2],[20.92,358],[20.97,352],[20.98,2],[21.01,355],[21.10,355],[21.19,352],[21.26,357],[21.27,2],[21.34,5],[21.42,4],[21.43,358],[21.44,2],[21.45,358],[21.46,2],[21.47,358],[21.48,2],[21.54,5],[21.63,10],[21.72,15],[21.76,25],[21.80,40],[21.84,50],[21.93,50],[22.02,55],[22.10,55],[22.19,60],[22.28,55],[22.36,65],[22.45,50],[22.50,60],[22.59,65],[22.67,65],[22.76,65],[22.84,65],[22.93,70],[23.02,70],[23.10,80],[23.19,85],[23.28,85],[23.36,90],[23.45,88],[23.53,90],[23.62,95],[23.66,90],[23.71,82],[23.79,75],[23.88,70],[23.97,75],[24.01,65],[24.07,75],[24.12,80],[24.16,120],[24.19,180],[24.22,210],[24.31,230],[24.40,245],[24.49,255],[24.57,265],[24.66,275],[24.74,285],[24.83,290],[24.91,295],[24.98,300]];

// ---- layout ----
const plotLeft = 71.5, plotRight = 1173;
const panelTop0 = 35.5, panelStep = 324.1, panelH = 233.5;
const tickLen = 10;

const t0 = Date.UTC(2013, 8, 10);
const dayMs = 864e5;
const toDate = d => new Date(t0 + d * dayMs);
const x = d3.scaleUtc().domain([toDate(0), toDate(24.985)]).range([plotLeft, plotRight]);
const parseDay = d3.utcParse("%Y-%m-%d");
const xTickDates = tickDates.map(parseDay);
const fmtDay = d3.utcFormat("%d\u2013%b");

const panels = [
  { title: "Wind speed", domain: [0, 20], ticks: speedTicks, data: windSpeed,
    label: [{ t: "wind speed (m/s)" }], labelX: 26.5 },
  { title: "Wind from direction", domain: [0, 400], ticks: dirTicks, data: windDir,
    label: [{ t: "wind direction (deg)" }], labelX: 16.5 },
  { title: "Significant wave height", domain: [0, 5], ticks: hsTicks, data: waveHeight,
    label: [{ t: "H" }, { t: "s", sub: true }, { t: " (m)" }], labelX: 28.5 },
  { title: "Wave mean period", domain: [3, 8], ticks: tmTicks, data: wavePeriod,
    label: [{ t: "T" }, { t: "m02", sub: true }, { t: " (s)" }], labelX: 28.5 },
  { title: "Wave from direction", domain: [0, 400], ticks: dirTicks, data: waveDir,
    label: [{ t: "wave dir. (deg)" }], labelX: 16.5 }
];

const svg = d3.select("#chart");

panels.forEach((p, i) => {
  const top = panelTop0 + i * panelStep;
  const g = svg.append("g").attr("transform", `translate(0,${top})`);
  const y = d3.scaleLinear().domain(p.domain).range([panelH, 0]);

  const clipId = `plot-clip-${i}`;
  g.append("clipPath").attr("id", clipId)
    .append("rect")
    .attr("x", plotLeft).attr("y", 0)
    .attr("width", plotRight - plotLeft).attr("height", panelH);

  // dotted grid
  const grid = g.append("g")
    .attr("stroke", "#222").attr("stroke-width", 1.1)
    .attr("stroke-dasharray", "1.2,10.8");
  grid.selectAll("line.gx")
    .data(xTickDates.filter(d => x(d) > plotLeft + 1 && x(d) < plotRight - 1))
    .join("line").attr("class", "gx")
    .attr("x1", d => x(d)).attr("x2", d => x(d))
    .attr("y1", panelH).attr("y2", 0);
  grid.selectAll("line.gy")
    .data(p.ticks.filter(v => v > p.domain[0] && v < p.domain[1]))
    .join("line").attr("class", "gy")
    .attr("x1", plotLeft).attr("x2", plotRight)
    .attr("y1", d => y(d)).attr("y2", d => y(d));

  // series
  const line = d3.line()
    .defined(d => d[1] !== null)
    .x(d => x(toDate(d[0])))
    .y(d => y(d[1]));
  g.append("path")
    .datum(p.data)
    .attr("clip-path", `url(#${clipId})`)
    .attr("fill", "none")
    .attr("stroke", "#0000ff")
    .attr("stroke-width", 1.3)
    .attr("stroke-linejoin", "round")
    .attr("d", line);

  // axes, ticks pointing inward on all four sides
  const styleAxis = sel => {
    sel.select(".domain").remove();
    sel.selectAll(".tick line").attr("stroke", "#000").attr("stroke-width", 1.3);
    sel.attr("font-size", null).attr("font-family", null);
  };
  g.append("g").attr("transform", `translate(0,${panelH})`)
    .call(d3.axisBottom(x).tickValues(xTickDates).tickFormat(fmtDay)
      .tickSize(-tickLen).tickPadding(12))
    .call(styleAxis);
  g.append("g")
    .call(d3.axisTop(x).tickValues(xTickDates).tickFormat("")
      .tickSize(-tickLen))
    .call(styleAxis);
  g.append("g").attr("transform", `translate(${plotLeft},0)`)
    .call(d3.axisLeft(y).tickValues(p.ticks).tickFormat(d3.format("d"))
      .tickSize(-tickLen).tickPadding(8))
    .call(styleAxis);
  g.append("g").attr("transform", `translate(${plotRight},0)`)
    .call(d3.axisRight(y).tickValues(p.ticks).tickFormat("")
      .tickSize(-tickLen))
    .call(styleAxis);

  // frame
  g.append("rect")
    .attr("x", plotLeft).attr("y", 0)
    .attr("width", plotRight - plotLeft).attr("height", panelH)
    .attr("fill", "none").attr("stroke", "#000").attr("stroke-width", 1.6);

  // title
  g.append("text")
    .attr("x", (plotLeft + plotRight) / 2).attr("y", -14)
    .attr("text-anchor", "middle")
    .text(p.title);

  // y label, with optional subscript
  const lab = g.append("text")
    .attr("transform", `translate(${p.labelX},${panelH / 2}) rotate(-90)`)
    .attr("text-anchor", "middle");
  let shifted = false;
  p.label.forEach(part => {
    const ts = lab.append("tspan").text(part.t);
    if (part.sub) {
      ts.style("font-size", "13px").attr("dy", 6);
      shifted = true;
    } else if (shifted) {
      ts.style("font-size", "18px").attr("dy", -6);
      shifted = false;
    }
  });
});
</script>
</body>
</html>
